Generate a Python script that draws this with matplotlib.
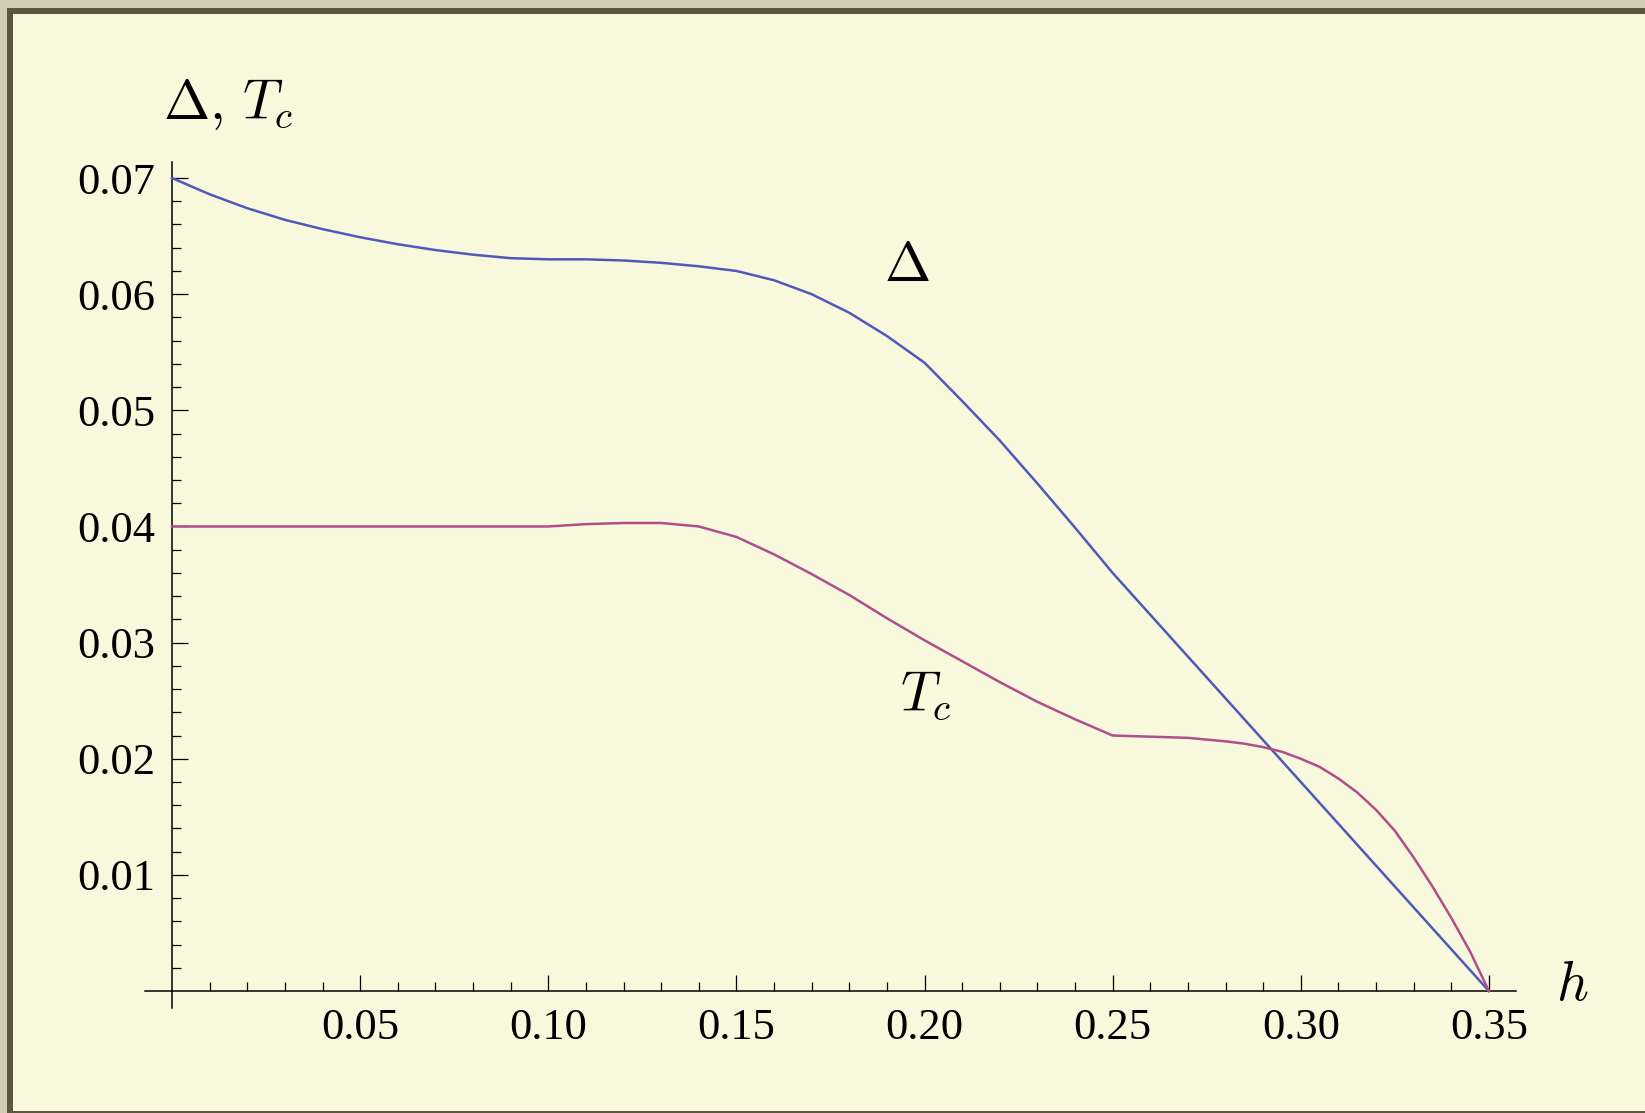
import matplotlib
matplotlib.use("Agg")
import matplotlib.pyplot as plt
from matplotlib.patches import Rectangle
from matplotlib.ticker import FixedLocator, FixedFormatter

# ---- data ----
h_delta = [0.00, 0.005, 0.01, 0.02, 0.03, 0.04, 0.05, 0.06, 0.07, 0.08, 0.09, 0.10,
           0.11, 0.12, 0.13, 0.14, 0.15, 0.16, 0.17, 0.18, 0.19, 0.20,
           0.21, 0.22, 0.23, 0.24, 0.25, 0.35]
delta = [0.0700, 0.0693, 0.0686, 0.0674, 0.0664, 0.0656, 0.0649, 0.0643, 0.0638, 0.0634, 0.0631, 0.0630,
         0.0630, 0.0629, 0.0627, 0.0624, 0.0620, 0.0612, 0.0600, 0.0584, 0.0564, 0.0541,
         0.0508, 0.0474, 0.0437, 0.0399, 0.0360, 0.0000]

h_tc = [0.00, 0.10, 0.11, 0.12, 0.13, 0.14, 0.15, 0.16, 0.17, 0.18, 0.19, 0.20,
        0.21, 0.22, 0.23, 0.24, 0.25, 0.26, 0.27, 0.28, 0.285, 0.29, 0.295, 0.30,
        0.305, 0.31, 0.315, 0.32, 0.325, 0.33, 0.335, 0.34, 0.345, 0.35]
tc = [0.0400, 0.0400, 0.0402, 0.0403, 0.0403, 0.0400, 0.0391, 0.0376, 0.0359, 0.0341, 0.0321, 0.0302,
      0.0284, 0.0266, 0.0249, 0.0234, 0.0220, 0.0219, 0.0218, 0.0215, 0.0213, 0.0210, 0.0206, 0.0200,
      0.0193, 0.0183, 0.0171, 0.0156, 0.0138, 0.0115, 0.0090, 0.0063, 0.0034, 0.0000]

x_ticks = [0.05, 0.10, 0.15, 0.20, 0.25, 0.30, 0.35]
x_ticklabels = ["0.05", "0.10", "0.15", "0.20", "0.25", "0.30", "0.35"]
y_ticks = [0.01, 0.02, 0.03, 0.04, 0.05, 0.06, 0.07]
y_ticklabels = ["0.01", "0.02", "0.03", "0.04", "0.05", "0.06", "0.07"]

# ---- figure ----
W, H = 1645, 1113
plt.rcParams['mathtext.fontset'] = 'cm'
fig = plt.figure(figsize=(W / 100, H / 100), dpi=100)
fig.patch.set_facecolor('#CFCDB3')

def fx(px):
    return px / W

def fy(py):
    return 1 - py / H

# frame (drawn beneath the axes)
fig.patches.append(Rectangle((fx(7), 0), 1, fy(8), transform=fig.transFigure,
                             facecolor='#5A5640', edgecolor='none', zorder=-10))
fig.patches.append(Rectangle((fx(13), fy(1111)), 1, fy(14) - fy(1111), transform=fig.transFigure,
                             facecolor='#F8F9DC', edgecolor='none', zorder=-9))

ax = fig.add_axes([fx(145), fy(1008), fx(1516) - fx(145), fy(162) - fy(1008)])
ax.set_zorder(1)
ax.set_facecolor('none')
ax.set_xlim(-0.00718, 0.3572)
ax.set_ylim(-0.00146, 0.07138)

ax.plot(h_delta, delta, color='#5258BA', lw=1.8, zorder=3)
ax.plot(h_tc, tc, color='#B04E8C', lw=1.8, zorder=3)

for s in ['top', 'right']:
    ax.spines[s].set_visible(False)
ax.spines['left'].set_position(('data', 0))
ax.spines['bottom'].set_position(('data', 0))
for s in ['left', 'bottom']:
    ax.spines[s].set_linewidth(1.1)
    ax.spines[s].set_color('black')

ax.xaxis.set_major_locator(FixedLocator(x_ticks))
ax.xaxis.set_major_formatter(FixedFormatter(x_ticklabels))
ax.xaxis.set_minor_locator(FixedLocator([i / 100 for i in range(1, 35)]))
ax.yaxis.set_major_locator(FixedLocator(y_ticks))
ax.yaxis.set_major_formatter(FixedFormatter(y_ticklabels))
ax.yaxis.set_minor_locator(FixedLocator([i / 500 for i in range(1, 35)]))

tick_font = 'Liberation Serif'
ax.tick_params(which='major', direction='in', length=11.5, width=0.9, pad=12,
               labelsize=32, colors='black')
ax.tick_params(which='minor', direction='in', length=6.5, width=0.9)
for lab in ax.get_xticklabels() + ax.get_yticklabels():
    lab.set_fontfamily(tick_font)

# axis labels and curve labels
fig.text(fx(163), fy(119), r'$\Delta,\, T_c$', fontsize=40, ha='left', va='baseline')
fig.text(fx(1556), fy(1000), r'$h$', fontsize=40, ha='left', va='baseline')
fig.text(fx(884), fy(281), r'$\Delta$', fontsize=40, ha='left', va='baseline')
fig.text(fx(900), fy(711), r'$T_c$', fontsize=40, ha='left', va='baseline')

fig.savefig('out.png', dpi=100, facecolor=fig.get_facecolor())
